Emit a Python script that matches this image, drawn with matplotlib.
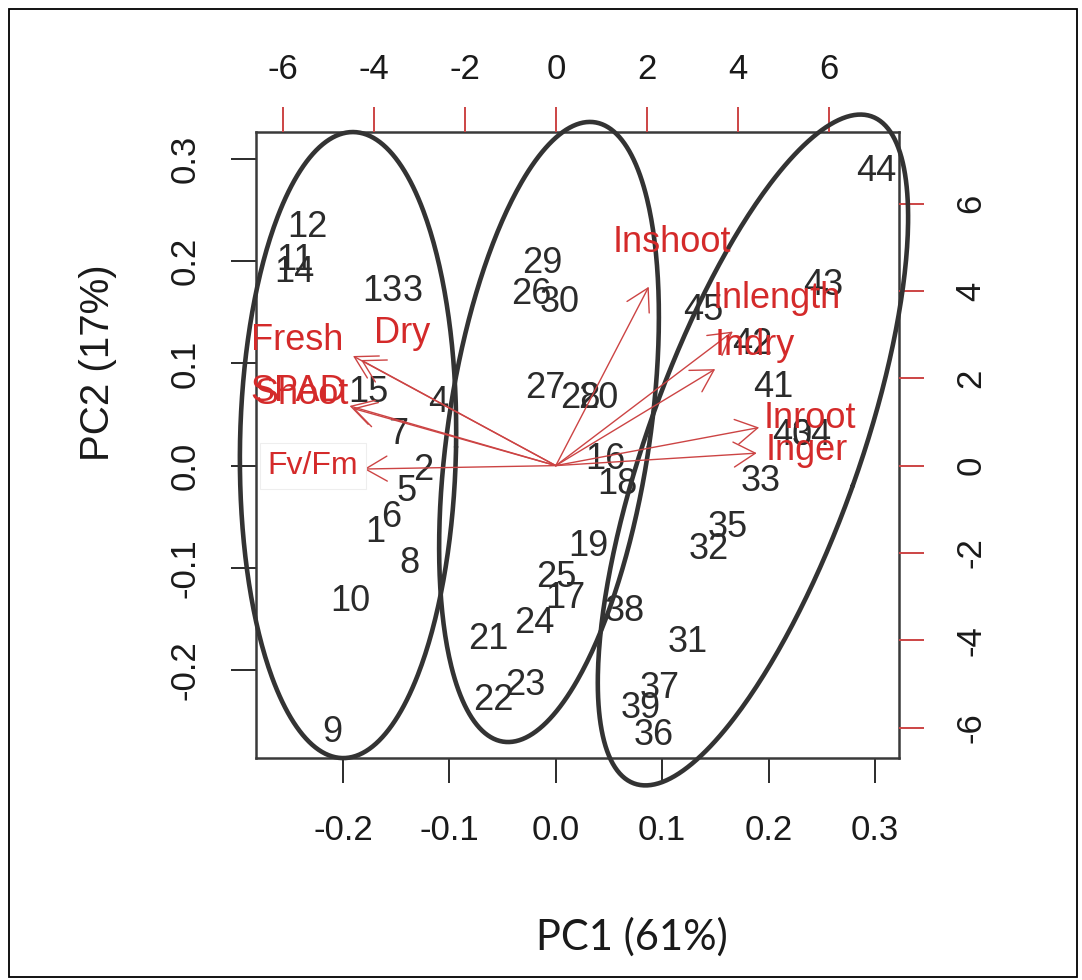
import numpy as np
import matplotlib
matplotlib.use("Agg")
import matplotlib.pyplot as plt
from matplotlib.patches import Rectangle

plt.rcParams["axes.unicode_minus"] = False
plt.rcParams["font.family"] = ["Liberation Sans", "DejaVu Sans"]

# ---- sample scores (PC1, PC2) ----
sample_ids = ["1", "2", "3", "4", "5", "6", "7", "8", "9", "10",
              "11", "12", "13", "14", "15",
              "16", "17", "18", "19", "20", "21", "22", "23", "24", "25",
              "26", "27", "28", "29", "30",
              "31", "32", "33", "34", "35", "36", "37", "38", "39", "40",
              "41", "42", "43", "44", "45"]
pc1 = [-0.1692, -0.1248, -0.1342, -0.1107, -0.1399, -0.1549, -0.1483, -0.1380, -0.2103, -0.1934,
       -0.2451, -0.2338, -0.1633, -0.2460, -0.1765,
       0.0462, 0.0086, 0.0575, 0.0303, 0.0397, -0.0637, -0.0590, -0.0290, -0.0205, 0.0002,
       -0.0233, -0.0102, 0.0227, -0.0130, 0.0039,
       0.1242, 0.1440, 0.1929, 0.2408, 0.1618, 0.0923, 0.0979, 0.0650, 0.0801, 0.2220,
       0.2041, 0.1844, 0.2511, 0.3009, 0.1383]
pc2 = [-0.0650, -0.0043, 0.1699, 0.0613, -0.0258, -0.0503, 0.0309, -0.0953, -0.2607, -0.1325,
       0.2004, 0.2325, 0.1699, 0.1885, 0.0720,
       0.0055, -0.1296, -0.0180, -0.0796, 0.0661, -0.1697, -0.2294, -0.2147, -0.1540, -0.1090,
       0.1679, 0.0750, 0.0661, 0.1982, 0.1591,
       -0.1726, -0.0816, -0.0160, 0.0290, -0.0601, -0.2636, -0.2176, -0.1423, -0.2372, 0.0290,
       0.0768, 0.1189, 0.1767, 0.2873, 0.1513]

# ---- variable loadings (top / right scale) ----
var_names = ["Inshoot", "Inlength", "Indry", "Inroot", "Inger",
             "SPAD", "Shoot", "Fresh", "Dry", "Fv/Fm"]
arrow_pc1 = [2.044, 3.892, 3.505, 4.472, 4.419, -4.536, -4.466, -4.460, -4.284, -4.218]
arrow_pc2 = [4.095, 3.070, 2.209, 0.872, 0.286, 1.366, 1.311, 2.509, 2.418, -0.078]
label_pc1 = [2.555, 4.865, 4.381, 5.590, 5.524, -5.670, -5.582, -5.692, -3.382, -5.340]
label_pc2 = [5.119, 3.837, 2.761, 1.090, 0.357, 1.708, 1.639, 2.853, 3.036, -0.009]

# ---- group ellipses: centre (PC1, PC2), semi-axes (PC2 units), tilt (deg) ----
ell_cx = [-0.1953, -0.0064, 0.1853]
ell_cy = [0.0201, 0.0329, 0.0153]
ell_major = [0.3063, 0.3063, 0.3464]
ell_minor = [0.1057, 0.0988, 0.1037]
ell_tilt = [1.0, 8.4, 19.6]

x_ticks = [-0.2, -0.1, 0.0, 0.1, 0.2, 0.3]
y_ticks = [-0.2, -0.1, 0.0, 0.1, 0.2, 0.3]
top_ticks = [-6, -4, -2, 0, 2, 4, 6]
right_ticks = [-6, -4, -2, 0, 2, 4, 6]

xlim = (-0.2818, 0.3226)
ylim = (-0.2861, 0.3264)
ratio = 23.4

RED = "#d42a2a"
TICK_RED = "#cc4444"
DARK = "#2b2b2b"

fig = plt.figure(figsize=(10.82, 9.8), dpi=100)
rect = [0.2366, 0.2265, 0.5943, 0.6388]
ax = fig.add_axes(rect)
ax.set_xlim(*xlim)
ax.set_ylim(*ylim)
ax.set_xticks(x_ticks)
ax.set_xticklabels([f"{t:.1f}" for t in x_ticks])
ax.set_yticks(y_ticks)
ax.set_yticklabels([f"{t:.1f}" for t in y_ticks])
ax.tick_params(axis="both", length=18, width=1.4, color=DARK, labelsize=25,
               labelcolor="#1a1a1a")
ax.tick_params(axis="x", pad=22)
ax.tick_params(axis="y", labelrotation=90, pad=21)
for lab in ax.get_yticklabels():
    lab.set_va("center")
for sp in ax.spines.values():
    sp.set_linewidth(1.8)
    sp.set_color("#3a3a3a")

# sample labels
for sid, x, y in zip(sample_ids, pc1, pc2):
    ax.text(x, y, sid, ha="center", va="center", fontsize=26, color=DARK)

# loadings axes on top / right
ax2 = fig.add_axes(rect, frameon=False)
ax2.patch.set_visible(False)
ax2.set_xlim(xlim[0] * ratio, xlim[1] * ratio)
ax2.set_ylim(ylim[0] * ratio, ylim[1] * ratio)
ax2.xaxis.tick_top()
ax2.yaxis.tick_right()
ax2.set_xticks(top_ticks)
ax2.set_xticklabels([str(t) for t in top_ticks])
ax2.set_yticks(right_ticks)
ax2.set_yticklabels([str(t) for t in right_ticks])
ax2.tick_params(axis="both", length=18, width=1.4, color=TICK_RED, labelsize=25,
                labelcolor="#1a1a1a")
ax2.tick_params(axis="x", pad=15)
ax2.tick_params(axis="y", labelrotation=90, pad=22)
for lab in ax2.get_yticklabels():
    lab.set_va("center")

for name, ax_, ay_, lx, ly in zip(var_names, arrow_pc1, arrow_pc2, label_pc1, label_pc2):
    ax2.annotate("", xy=(ax_, ay_), xytext=(0, 0),
                 arrowprops=dict(arrowstyle="->,head_length=0.78,head_width=0.45",
                                 mutation_scale=20, color=TICK_RED, lw=1.0,
                                 shrinkA=0, shrinkB=0))
    if name == "Fv/Fm":
        ax2.text(lx, ly, name, ha="center", va="center", fontsize=23, color=RED,
                 bbox=dict(boxstyle="square,pad=0.25", fc="white", ec="#eeeeee", lw=0.8))
    else:
        ax2.text(lx, ly, name, ha="center", va="center", fontsize=26, color=RED)

# group ellipses, drawn in screen space so they keep their shape
py_unit = ax.transData.transform((0, 1))[1] - ax.transData.transform((0, 0))[1]
t = np.linspace(0, 2 * np.pi, 400)
inv = ax.transData.inverted()
for cx, cy, a, b, tilt in zip(ell_cx, ell_cy, ell_major, ell_minor, ell_tilt):
    c = ax.transData.transform((cx, cy))
    th = np.deg2rad(tilt)
    A = a * py_unit
    B = b * py_unit
    xs = c[0] + A * np.sin(t) * np.sin(th) + B * np.cos(t) * np.cos(th)
    ys = c[1] + A * np.sin(t) * np.cos(th) - B * np.cos(t) * np.sin(th)
    pts = inv.transform(np.column_stack([xs, ys]))
    ax2.plot(pts[:, 0], pts[:, 1], transform=ax.transData, color="#333333",
             lw=3.3, clip_on=False, solid_capstyle="round")

fig.text(0.0906, 0.6296, "PC2 (17%)", rotation=90, ha="center", va="center",
         fontsize=29, color="#1a1a1a")
fig.text(0.5841, 0.0440, "PC1 (61%)", ha="center", va="center",
         fontsize=30, color="#1a1a1a", family=["Lato", "DejaVu Sans"])

fig.patches.append(Rectangle((9 / 1082, 3 / 980), 1068 / 1082, 968 / 980,
                             transform=fig.transFigure, fill=False,
                             ec="black", lw=1.3))

fig.savefig("out.png", dpi=100)
